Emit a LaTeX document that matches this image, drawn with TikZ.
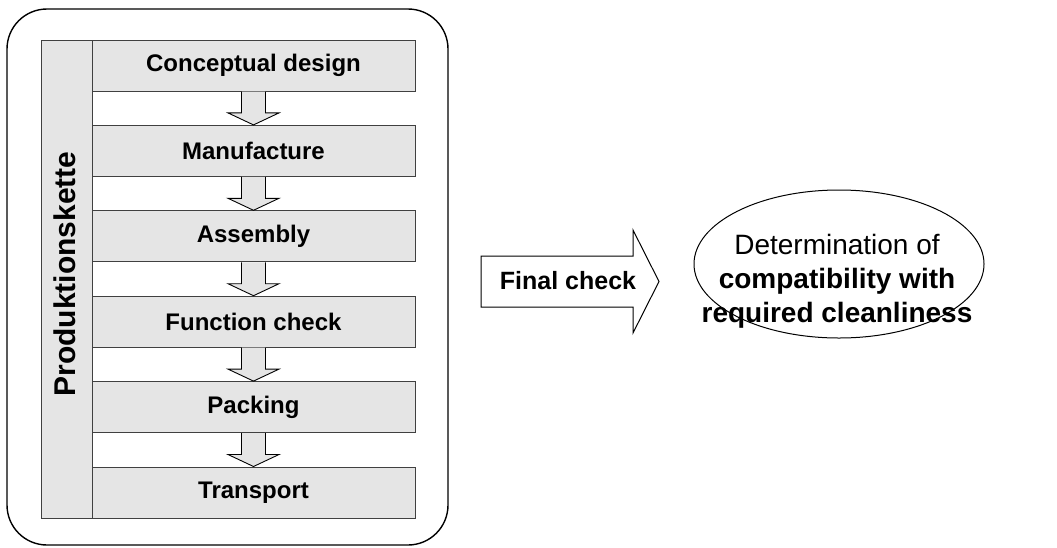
\documentclass[tikz,border=0pt]{standalone}
\usepackage{fontspec}
\setmainfont{Liberation Sans}
\usetikzlibrary{calc,shapes.geometric}
\begin{document}
\begin{tikzpicture}[x=1pt,y=-1pt,
  stage/.style={draw=black!75, line width=1pt, fill=black!10, minimum width=323pt, minimum height=51pt, inner sep=0pt, font=\fontsize{24}{28}\selectfont\bfseries},
  flow/.style={draw=black, line width=0.9pt, fill=black!10, line join=miter},
  bigarrow/.style={draw=black, line width=1pt, fill=white, line join=miter},
  frame/.style={draw=black, line width=1.4pt, rounded corners=40pt}
]
\useasboundingbox (0,0) rectangle (1057,547);
\draw[frame] (7,9) rectangle (448,545);
\node[draw=black!75, line width=1pt, fill=black!10, minimum width=51pt, minimum height=478pt, inner sep=0pt] (bar) at (66.5,279) {};
\node[rotate=90, anchor=base, inner sep=0pt, font=\fontsize{30}{34}\selectfont\bfseries] (prod) at (75.5,274) {Produktionskette};
\node[stage] (s1) at (253.5,65.5) {Conceptual design};
\node[stage] (s2) at (253.5,150.9) {Manufacture};
\node[stage] (s3) at (253.5,236.3) {Assembly};
\node[stage] (s4) at (253.5,321.7) {Function check};
\node[stage] (s5) at (253.5,407.1) {Packing};
\node[stage] (s6) at (253.5,492.5) {Transport};
\foreach \a/\b in {s1/s2,s2/s3,s3/s4,s4/s5,s5/s6}{
  \draw[flow] ($(\a.south)+(-12,0)$) -- ($(\b.north)+(-12,-12)$) -- ($(\b.north)+(-25.5,-12)$) -- (\b.north) -- ($(\b.north)+(25.5,-12)$) -- ($(\b.north)+(12,-12)$) -- ($(\a.south)+(12,0)$);
}
\draw[bigarrow] (481,256) -- (633,256) -- (633,230) -- (659,281.5) -- (633,333) -- (633,307) -- (481,307) -- cycle;
\node[inner sep=0pt, font=\fontsize{25}{30}\selectfont\bfseries] (fc) at (568,280.5) {Final check};
\node[ellipse, draw=black, line width=1pt, minimum width=290pt, minimum height=148pt, inner sep=0pt] (det) at (839,264) {};
\node[align=center, inner sep=0pt, font=\fontsize{28}{34}\selectfont] (dett) at (837,281) {Determination of\\ \textbf{compatibility with}\\ \textbf{required cleanliness}};
\end{tikzpicture}
\end{document}
